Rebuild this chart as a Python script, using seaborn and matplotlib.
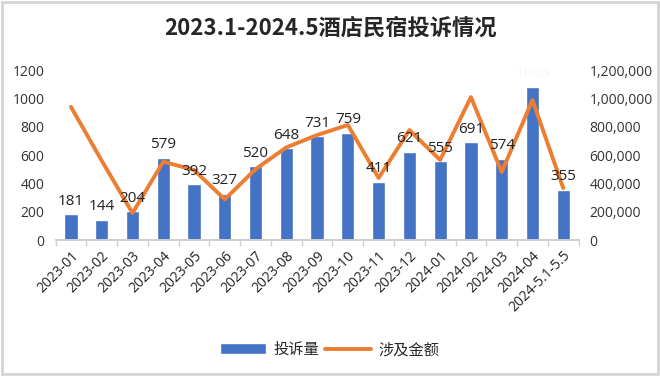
import matplotlib
matplotlib.use("Agg")
import matplotlib.pyplot as plt
import matplotlib.ticker as mticker
from matplotlib.patches import Patch, Rectangle
from matplotlib.lines import Line2D
import seaborn as sns
import numpy as np
import pandas as pd

months = ['2023-01', '2023-02', '2023-03', '2023-04', '2023-05', '2023-06',
          '2023-07', '2023-08', '2023-09', '2023-10', '2023-11', '2023-12',
          '2024-01', '2024-02', '2024-03', '2024-04', '2024-5.1-5.5']
complaints = [181, 144, 204, 579, 392, 327, 520, 648, 731, 759, 411, 621,
              555, 691, 574, 1083, 355]
amounts = [940000, 560000, 190000, 553000, 494000, 287000, 500000, 654000,
           741000, 812000, 438000, 776000, 565000, 1009000, 480000, 988000,
           367000]

sns.set_theme(style="white")
plt.rcParams['font.family'] = ['Open Sans', 'Noto Sans CJK SC', 'DejaVu Sans']

blue = '#4472C4'
orange = '#ED7D31'

df = pd.DataFrame({'month': months, 'complaints': complaints, 'amount': amounts})

fig = plt.figure(figsize=(6.6, 3.76), dpi=100)
ax = fig.add_axes([0.0842, 0.3617, 0.7925, 0.452])

sns.barplot(data=df, x='month', y='complaints', color=blue, saturation=1,
            width=0.43, ax=ax)
ax.set_ylim(0, 1200)
ax.set_yticks(range(0, 1201, 200))
ax.set_xlim(-0.5, len(months) - 0.5)
ax.set_xlabel('')
ax.set_ylabel('')

ax2 = ax.twinx()
sns.lineplot(x=np.arange(len(months)), y=amounts, color=orange, linewidth=2.8,
             ax=ax2, zorder=3)
ax2.set_ylim(0, 1200000)
ax2.set_yticks(range(0, 1200001, 200000))
ax2.yaxis.set_major_formatter(mticker.FuncFormatter(lambda v, p: f'{int(v):,}'))
ax2.set_xlim(-0.5, len(months) - 0.5)

# data labels, drawn on the top axes so they sit above the line
for rect, v in zip(ax.patches, complaints):
    col = '#f7f7f7' if v > 1000 else '#222222'
    ax2.annotate(str(v), xy=(rect.get_x() + rect.get_width() / 2,
                             rect.get_height() * 1000),
                 xytext=(0, 4), textcoords='offset points',
                 ha='center', va='bottom', fontsize=11, color=col, zorder=5)

for a in (ax, ax2):
    for s in ('top', 'left', 'right'):
        a.spines[s].set_visible(False)
    a.spines['bottom'].set_color('#d0d0d0')
    a.tick_params(axis='y', length=0, labelsize=10, colors='#333333', pad=8)

ax.set_xticks(range(len(months)))
ax.set_xticklabels(months, rotation=45, ha='right', rotation_mode='anchor',
                   fontsize=10, color='#222222')
ax.tick_params(axis='x', which='major', length=0, pad=6)
ax.set_xticks(np.arange(-0.5, len(months), 1), minor=True)
ax.tick_params(axis='x', which='minor', length=4, color='#d0d0d0', bottom=True)
ax.set_yticklabels([str(t) for t in range(0, 1201, 200)])

fig.suptitle('2023.1-2024.5酒店民宿投诉情况', x=0.5, y=0.955, fontsize=16,
             fontweight='bold', family=['Noto Sans CJK SC', 'DejaVu Sans'])

handles = [Patch(facecolor=blue, label='投诉量'),
           Line2D([0], [0], color=orange, lw=2.8, label='涉及金额')]
fig.legend(handles=handles, loc='center', bbox_to_anchor=(0.5, 0.07), ncol=2,
           frameon=False, handlelength=3.0, columnspacing=0.4,
           handletextpad=0.5, prop={'family': ['Noto Sans CJK SC'], 'size': 11})

fig.patches.append(Rectangle((0.003, 0.004), 0.994, 0.992, transform=fig.transFigure,
                             fill=False, edgecolor='#d4d4d4', lw=2))

fig.savefig('out.png', dpi=100)
